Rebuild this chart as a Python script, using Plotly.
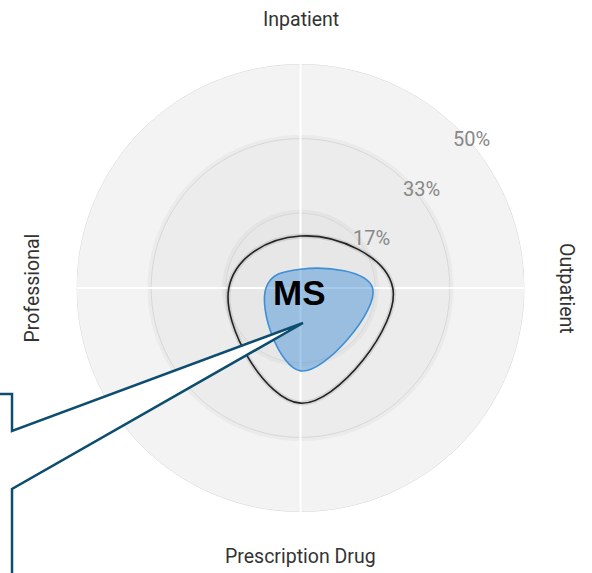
import numpy as np
import plotly.graph_objects as go

# ---- data ----
categories = ["Inpatient", "Outpatient", "Prescription Drug", "Professional"]
benchmark_values = [0.116, 0.206, 0.257, 0.160]   # black outline
ms_values = [0.042, 0.161, 0.185, 0.077]          # blue "MS" shape
ring_levels = [0.5, 1/3, 1/6]
ring_colors = ["#f3f3f3", "#ececec", "#e7e7e7"]
tick_vals = [1/6, 1/3, 0.5]
tick_text = ["17%", "33%", "50%"]
label_text = "MS"

W, H = 592, 573
OFF = 0                      # page body margin (removed via post_script)
cx, cy, R = 300.5, 288, 224  # screen pixels
fx, fy = cx - OFF, cy - OFF  # figure pixels
dom_x = [(fx - R) / W, (fx + R) / W]
dom_y = [(H - fy - R) / H, (H - fy + R) / H]
RMAX = max(ring_levels)


def px(sx, sy):
    """screen pixel -> paper coords"""
    return (sx - OFF) / W, 1 - (sy - OFF) / H


angles = [i * 360 / len(categories) for i in range(len(categories))]

fig = go.Figure()

circ_theta = np.linspace(0, 360, 361)
for lvl, col in zip(ring_levels, ring_colors):
    fig.add_trace(go.Scatterpolar(r=[lvl + 0.004] * len(circ_theta), theta=circ_theta,
                                  mode="lines", line=dict(color="rgba(0,0,0,0.03)", width=4),
                                  hoverinfo="skip", showlegend=False))
    fig.add_trace(go.Scatterpolar(r=[lvl] * len(circ_theta), theta=circ_theta,
                                  mode="lines", fill="toself", fillcolor=col,
                                  line=dict(color="#d6d6d6", width=1),
                                  hoverinfo="skip", showlegend=False))

# white cross gridlines
for a in angles:
    fig.add_trace(go.Scatterpolar(r=[0, RMAX], theta=[a, a], mode="lines",
                                  line=dict(color="white", width=2),
                                  hoverinfo="skip", showlegend=False))

# benchmark outline (soft glow then line)
bt = angles + [angles[0]]
br = benchmark_values + [benchmark_values[0]]
fig.add_trace(go.Scatterpolar(r=br, theta=bt, mode="lines",
                              line=dict(color="rgba(0,0,0,0.10)", width=5, shape="spline", smoothing=1.3),
                              hoverinfo="skip", showlegend=False))
fig.add_trace(go.Scatterpolar(r=br, theta=bt, mode="lines",
                              line=dict(color="#222222", width=1.6, shape="spline", smoothing=1.3),
                              showlegend=False))

# MS shape
mr = ms_values + [ms_values[0]]
fig.add_trace(go.Scatterpolar(r=mr, theta=bt, mode="lines", fill="toself",
                              fillcolor="rgba(60,140,212,0.45)",
                              line=dict(color="#3f8fd6", width=1.6, shape="spline", smoothing=1.3),
                              showlegend=False))

fig.update_layout(
    width=W, height=H,
    margin=dict(l=0, r=0, t=0, b=0),
    paper_bgcolor="white",
    showlegend=False,
    polar=dict(
        domain=dict(x=dom_x, y=dom_y),
        bgcolor="rgba(0,0,0,0)",
        radialaxis=dict(range=[0, RMAX], tickvals=tick_vals, showticklabels=False,
                        showline=False, ticks="", showgrid=False),
        angularaxis=dict(rotation=90, direction="clockwise", tickvals=angles,
                         showticklabels=False, ticks="", showline=False, showgrid=False),
    ),
    font=dict(family="Roboto"),
)

# radial tick labels
for v, t in zip(tick_vals, tick_text):
    rp = v / RMAX * R
    x, y = px(cx + 21 + 0.67 * rp, cy - 0.665 * rp)
    fig.add_annotation(x=x, y=y, xref="paper", yref="paper", text=t, showarrow=False,
                       xanchor="center", yanchor="middle",
                       font=dict(family="Roboto", size=20, color="#888888"))

# axis category labels
label_pos = [(cx, 19.5, 0), (567, cy, 90), (cx, 556, 0), (31.5, cy, -90)]
for name, (sx, sy, ang) in zip(categories, label_pos):
    x, y = px(sx, sy)
    fig.add_annotation(x=x, y=y, xref="paper", yref="paper", text=name, showarrow=False,
                       textangle=ang, xanchor="center", yanchor="middle",
                       font=dict(family="Roboto", size=19.5, color="#333333"))


# callout
def P(sx, sy):
    x, y = px(sx, sy)
    return f"{x:.4f},{y:.4f}"


path = ("M " + P(-20, 394) + " L " + P(12, 394) + " L " + P(12, 431) + " L " + P(303, 323)
        + " L " + P(12, 489) + " L " + P(12, 620) + " L " + P(-20, 620) + " Z")
fig.add_shape(type="path", path=path, xref="paper", yref="paper",
              fillcolor="white", line=dict(color="#0d4d6e", width=2.5), layer="above")

x, y = px(299, 292.5)
fig.add_annotation(x=x, y=y, xref="paper", yref="paper", text=f"<b>{label_text}</b>",
                   showarrow=False, xanchor="center", yanchor="middle",
                   font=dict(family="Liberation Sans", size=35, color="black"))

fig.write_html("out.html", config={"displayModeBar": False},
               post_script="document.body.style.margin='0';")
